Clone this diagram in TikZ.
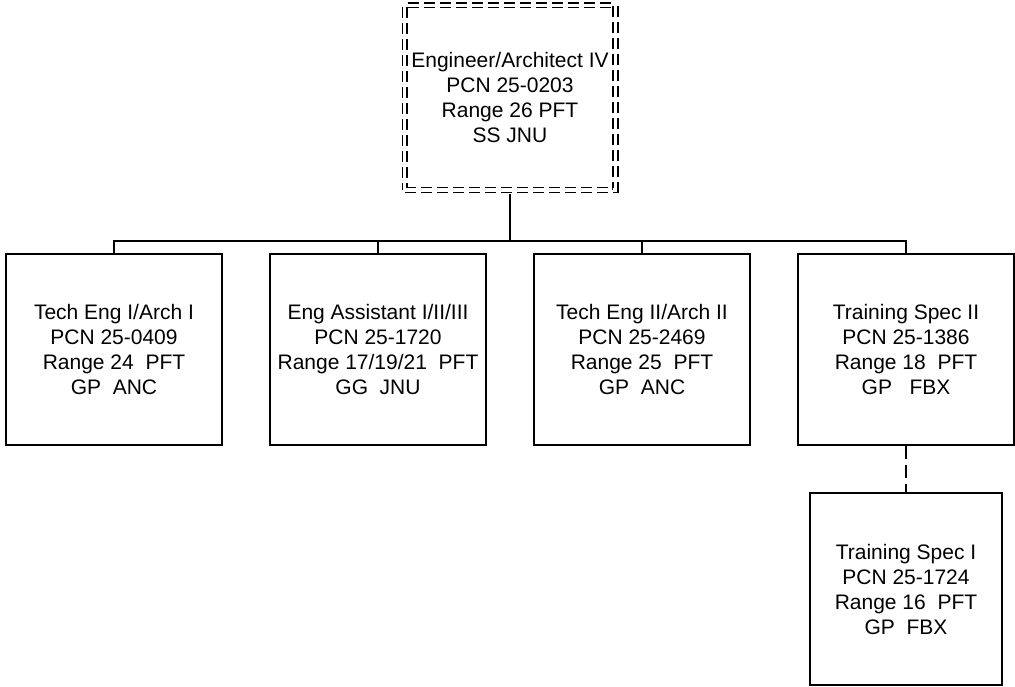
\documentclass[tikz,border=0pt]{standalone}
\usepackage{fontspec}
\setmainfont{Liberation Sans}
\begin{document}
\begin{tikzpicture}[x=1pt,y=-1pt,
  posbox/.style={draw=black, line width=1.6pt, rectangle, inner sep=0pt, align=center,
    font=\fontsize{21}{25}\selectfont},
  headbox/.style={draw=black, line width=1.5pt, double=white, double distance=3.3pt,
    dash pattern=on 11pt off 5pt, rectangle, inner sep=0pt, align=center,
    minimum width=210.7pt, minimum height=184.7pt, font=\fontsize{21}{25}\selectfont},
  link/.style={line width=1.6pt},
  dlink/.style={line width=1.6pt, dash pattern=on 13pt off 6pt}]
\useasboundingbox (0,0) rectangle (1015,686);
\node[headbox] (top) at (510,97.5) {Engineer/Architect IV\\PCN 25-0203\\Range 26 PFT\\SS JNU};
\node[posbox, minimum width=216pt, minimum height=191pt] (c1) at (114,349.5) {Tech Eng I/Arch I\\PCN 25-0409\\Range 24\ \ PFT\\GP\ \ ANC};
\node[posbox, minimum width=216pt, minimum height=191pt] (c2) at (378,349.5) {Eng Assistant I/II/III\\PCN 25-1720\\Range 17/19/21\ \ PFT\\GG\ \ JNU};
\node[posbox, minimum width=216pt, minimum height=191pt] (c3) at (642,349.5) {Tech Eng II/Arch II\\PCN 25-2469\\Range 25\ \ PFT\\GP\ \ ANC};
\node[posbox, minimum width=216pt, minimum height=191pt] (c4) at (906,349.5) {Training Spec II\\PCN 25-1386\\Range 18\ \ PFT\\GP\ \ \ FBX};
\node[posbox, minimum width=192pt, minimum height=192pt] (c5) at (906,589) {Training Spec I\\PCN 25-1724\\Range 16\ \ PFT\\GP\ \ FBX};
\coordinate (bus) at (510,241);
\draw[link] ([yshift=-3.15pt]top.south) -- (bus);
\draw[link] (c1.north) -- (c1.north |- bus) -- (c4.north |- bus) -- (c4.north);
\draw[link] (c2.north) -- (c2.north |- bus);
\draw[link] (c3.north) -- (c3.north |- bus);
\draw[dlink] (c4.south) -- (c5.north);
\end{tikzpicture}
\end{document}
